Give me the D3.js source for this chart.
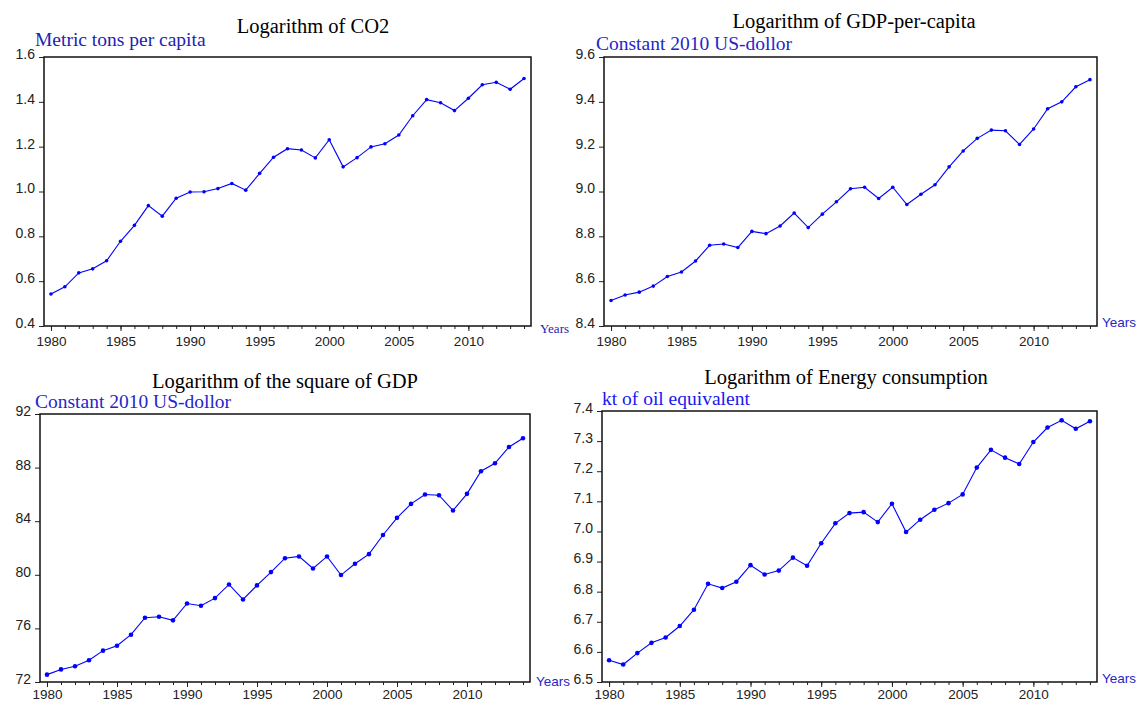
<!DOCTYPE html>
<html>
<head>
<meta charset="utf-8">
<script src="https://cdn.jsdelivr.net/npm/d3@7"></script>
<style>
  body { margin: 0; background: #fff; }
  svg { display: block; }
</style>
</head>
<body>
<div id="chart"></div>
<script>
// data
const years = [1980, 1981, 1982, 1983, 1984, 1985, 1986, 1987, 1988, 1989,
               1990, 1991, 1992, 1993, 1994, 1995, 1996, 1997, 1998, 1999,
               2000, 2001, 2002, 2003, 2004, 2005, 2006, 2007, 2008, 2009,
               2010, 2011, 2012, 2013, 2014];
const yearTicks = [1980, 1985, 1990, 1995, 2000, 2005, 2010];

const co2 = [0.543, 0.575, 0.637, 0.655, 0.691, 0.778, 0.849, 0.937, 0.890, 0.970,
             0.998, 0.999, 1.013, 1.036, 1.006, 1.081, 1.153, 1.191, 1.185, 1.150,
             1.231, 1.110, 1.151, 1.199, 1.213, 1.252, 1.338, 1.410, 1.396, 1.361,
             1.416, 1.476, 1.487, 1.456, 1.504];
const co2Ticks = [0.4, 0.6, 0.8, 1.0, 1.2, 1.4, 1.6];

const gdpPc = [8.514, 8.538, 8.551, 8.578, 8.621, 8.641, 8.690, 8.760, 8.766, 8.750,
               8.822, 8.812, 8.846, 8.904, 8.839, 8.899, 8.954, 9.012, 9.019, 8.969,
               9.019, 8.942, 8.988, 9.030, 9.110, 9.181, 9.237, 9.274, 9.271, 9.210,
               9.279, 9.369, 9.400, 9.467, 9.499];
const gdpPcTicks = [8.4, 8.6, 8.8, 9.0, 9.2, 9.4, 9.6];

const gdpSq = [72.55, 72.94, 73.17, 73.62, 74.34, 74.71, 75.53, 76.80, 76.87, 76.60,
               77.86, 77.69, 78.26, 79.28, 78.16, 79.21, 80.20, 81.24, 81.37, 80.47,
               81.37, 79.98, 80.82, 81.54, 82.97, 84.25, 85.29, 85.99, 85.94, 84.80,
               86.04, 87.73, 88.32, 89.54, 90.19];
const gdpSqTicks = [72, 76, 80, 84, 88, 92];

const energy = [6.572, 6.558, 6.596, 6.630, 6.648, 6.686, 6.740, 6.826, 6.812, 6.833,
                6.888, 6.857, 6.870, 6.913, 6.886, 6.961, 7.027, 7.061, 7.064, 7.031,
                7.092, 6.998, 7.039, 7.072, 7.094, 7.123, 7.212, 7.271, 7.245, 7.224,
                7.297, 7.345, 7.369, 7.341, 7.366];
const energyTicks = [6.5, 6.6, 6.7, 6.8, 6.9, 7.0, 7.1, 7.2, 7.3, 7.4];

const titles = ['Logarithm of CO2', 'Logarithm of GDP-per-capita',
                'Logarithm of the square of GDP', 'Logarithm of Energy consumption'];
const units = ['Metric tons per capita', 'Constant 2010 US-dollor',
               'Constant 2010 US-dollor', 'kt of oil equivalent'];

// layout of the four panels
const panels = [
  {values: co2, ticks: co2Ticks, fmt: '.1f', title: titles[0], unit: units[0],
   left: 44, right: 531, top: 57, bottom: 326, pad: 5, titleX: 313, titleY: 33,
   unitX: 35, unitY: 46, unitColor: '#2222b0', yearsX: 540, yearsY: 333,
   yearsSerif: true, r: 1.8},
  {values: gdpPc, ticks: gdpPcTicks, fmt: '.1f', title: titles[1], unit: units[1],
   left: 604, right: 1097, top: 57, bottom: 326, pad: 5, titleX: 854, titleY: 28,
   unitX: 596, unitY: 50, unitColor: '#2626c8', yearsX: 1102, yearsY: 327,
   yearsSerif: false, r: 1.8},
  {values: gdpSq, ticks: gdpSqTicks, fmt: 'd', title: titles[2], unit: units[2],
   left: 40, right: 530, top: 414, bottom: 682, pad: 2, titleX: 285, titleY: 388,
   unitX: 35, unitY: 408, unitColor: '#2626c8', yearsX: 536, yearsY: 686,
   yearsSerif: false, r: 2.3},
  {values: energy, ticks: energyTicks, fmt: '.1f', title: titles[3], unit: units[3],
   left: 602, right: 1097, top: 411, bottom: 682, pad: 2, titleX: 846, titleY: 384,
   unitX: 602, unitY: 405, unitColor: '#1818f0', yearsX: 1102, yearsY: 683,
   yearsSerif: false, r: 2.3}
];

const serif = '"Liberation Serif", "Times New Roman", serif';
const sans = '"Liberation Sans", Arial, sans-serif';

const svg = d3.select('#chart').append('svg')
  .attr('width', 1138)
  .attr('height', 702);

function drawPanel(p) {
  const g = svg.append('g');
  const x = d3.scaleLinear().domain([1979.5, 2014.5]).range([p.left, p.right]);
  const y = d3.scaleLinear()
    .domain([p.ticks[0], p.ticks[p.ticks.length - 1]])
    .range([p.bottom, p.top]);

  // yearly minor ticks
  g.append('g')
    .attr('transform', `translate(0,${p.bottom})`)
    .call(d3.axisBottom(x).tickValues(years).tickSize(3).tickFormat(''))
    .call(a => a.select('.domain').remove())
    .call(a => a.selectAll('.tick line').attr('stroke', '#222'));

  // labelled ticks
  g.append('g')
    .attr('transform', `translate(0,${p.bottom})`)
    .call(d3.axisBottom(x).tickValues(yearTicks).tickSize(5).tickPadding(p.pad)
            .tickFormat(d3.format('d')))
    .call(a => a.select('.domain').remove())
    .call(a => a.selectAll('.tick line').attr('stroke', '#222'))
    .call(a => a.selectAll('.tick text')
                .attr('fill', '#222')
                .style('font-family', sans)
                .style('font-size', '13.5px'));

  g.append('g')
    .attr('transform', `translate(${p.left},0)`)
    .call(d3.axisLeft(y).tickValues(p.ticks).tickSize(5).tickPadding(4)
            .tickFormat(d3.format(p.fmt)))
    .call(a => a.select('.domain').remove())
    .call(a => a.selectAll('.tick line').attr('stroke', '#222'))
    .call(a => a.selectAll('.tick text')
                .attr('dy', '0.1em')
                .attr('fill', '#222')
                .style('font-family', sans)
                .style('font-size', '14px'));

  // frame
  g.append('rect')
    .attr('x', p.left)
    .attr('y', p.top)
    .attr('width', p.right - p.left)
    .attr('height', p.bottom - p.top)
    .attr('fill', 'none')
    .attr('stroke', '#111')
    .attr('stroke-width', 1.5);

  const line = d3.line()
    .x((d, i) => x(years[i]))
    .y(d => y(d));

  g.append('path')
    .datum(p.values)
    .attr('fill', 'none')
    .attr('stroke', '#0000ff')
    .attr('stroke-width', 1.1)
    .attr('d', line);

  g.append('g')
    .selectAll('circle')
    .data(p.values)
    .enter().append('circle')
      .attr('cx', (d, i) => x(years[i]))
      .attr('cy', d => y(d))
      .attr('r', p.r)
      .attr('fill', '#0000ff');

  g.append('text')
    .attr('x', p.titleX)
    .attr('y', p.titleY)
    .attr('text-anchor', 'middle')
    .style('font-family', serif)
    .style('font-size', '20.5px')
    .attr('fill', '#000')
    .text(p.title);

  g.append('text')
    .attr('x', p.unitX)
    .attr('y', p.unitY)
    .style('font-family', serif)
    .style('font-size', '19.5px')
    .attr('fill', p.unitColor)
    .text(p.unit);

  g.append('text')
    .attr('x', p.yearsX)
    .attr('y', p.yearsY)
    .style('font-family', p.yearsSerif ? serif : sans)
    .style('font-size', p.yearsSerif ? '13px' : '13.5px')
    .attr('fill', p.yearsSerif ? '#2222b0' : '#2626c8')
    .text('Years');
}

panels.forEach(drawPanel);
</script>
</body>
</html>
